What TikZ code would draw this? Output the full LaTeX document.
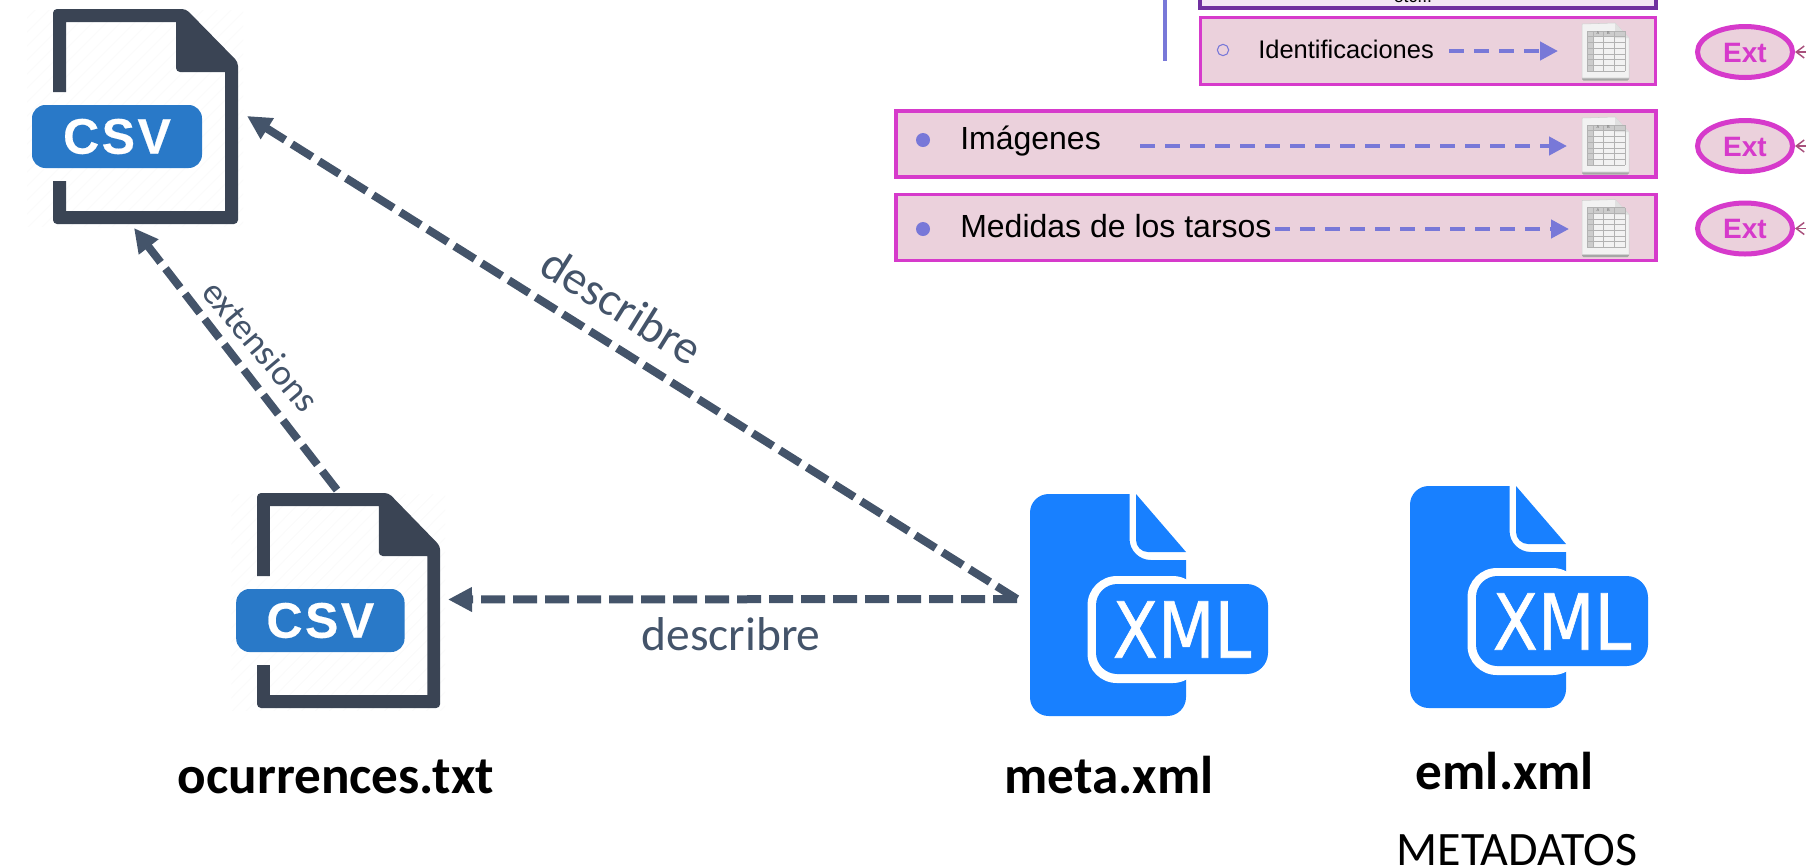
\documentclass[tikz,border=0pt]{standalone}
\usepackage{fontspec}
\setmainfont{Liberation Sans}
\newfontfamily\carlito{Carlito}
\newfontfamily\dejavu{DejaVu Sans}
\usetikzlibrary{arrows.meta,shapes.geometric}
\definecolor{csvdark}{HTML}{3A4454}
\definecolor{csvblue}{HTML}{2979C8}
\definecolor{xmlblue}{HTML}{1880FF}
\definecolor{slate}{HTML}{44546A}
\definecolor{violet}{HTML}{7878D8}
\definecolor{magentaline}{HTML}{D63ACB}
\definecolor{pinkfill}{HTML}{EBD1DC}
\definecolor{purpleline}{HTML}{7030A0}
\definecolor{lilacfill}{HTML}{F3E6F5}
\definecolor{backarrow}{HTML}{A8507C}
\definecolor{hatchgrey}{HTML}{FBFBFB}
\tikzset{
  slatearrow/.style={draw=slate,line width=6pt,dash pattern=on 18pt off 6pt,-{Triangle[length=18pt,width=17.5pt]}},
  violetarrow/.style={draw=violet,line width=3.2pt,dash pattern=on 11.25pt off 7.5pt,-{Triangle[length=13.5pt,width=13.5pt]}},
  pinkbox/.style={draw=magentaline,fill=pinkfill,line width=2.6pt,inner sep=0pt},
  purplebox/.style={draw=purpleline,fill=lilacfill,line width=2.6pt,inner sep=0pt},
  extnode/.style={ellipse,draw=magentaline,fill=pinkfill,line width=3.75pt,minimum width=71.25pt,minimum height=38.25pt,inner sep=0pt},
  exttext/.style={anchor=base,inner sep=0pt,text=magentaline,font=\fontsize{21}{21}\selectfont\bfseries},
  rowtext/.style={anchor=base west,inner sep=0pt,font=\fontsize{24}{24}\selectfont},
  boldlabel/.style={anchor=base,inner sep=0pt,font=\carlito\bfseries\fontsize{39.9}{40}\selectfont},
  edgelabel/.style={inner sep=0pt,text=slate,font=\carlito\fontsize{35.6}{36}\selectfont},
  backtip/.style={draw=backarrow,line width=1.1pt,-{Straight Barb[length=6pt,width=9pt]}},
}
\newcommand\csvicon[4]{% name x y xscale
  \begin{scope}[shift={(#2,#3)},xscale=#4]
    \begin{scope}
      \clip (-26,1) rectangle (190,217);
      \foreach \k in {-26,-12,...,420} \draw[hatchgrey,line width=.8pt] (\k-230,225) -- (\k,-5);
    \end{scope}
    \fill[csvdark] (0,83) [rounded corners=3] -- (0,0) -- (133,0) -- (185,53) -- (185,215) -- (0,215) [sharp corners] -- (0,172) -- (13,172) -- (13,202) -- (172,202) -- (172,63) [rounded corners=3] -- (123,63) [sharp corners] -- (123,13) -- (13,13) -- (13,83) -- cycle;
    \fill[csvblue,rounded corners=10] (-21,96) rectangle (149,159);
    \node[inner sep=0pt,text=white] (#1) at (64,127.5) {\bfseries\fontsize{37.5}{38}\selectfont\addfontfeature{LetterSpace=5,FakeBold=.4}CSV};
  \end{scope}}
\newcommand\xmlicon[3]{% name x y
  \begin{scope}[shift={(#2,#3)}]
    \fill[xmlblue] (99.5,0) [rounded corners=14] -- (0,0) -- (0,222) -- (156,222) [sharp corners] -- (156,66) [rounded corners=16] -- (99.5,66) [sharp corners] -- (99.5,0) -- cycle;
    \fill[xmlblue] (106,0) -- (156,58) [rounded corners=9] -- (106,58) [sharp corners] -- cycle;
    \fill[white,rounded corners=22] (57.5,82) rectangle (172,189);
    \fill[xmlblue,rounded corners=16] (66,90) rectangle (238,180);
    \node[inner sep=0pt,text=white,xscale=.85] (#1) at (152,135.5) {\dejavu\addfontfeature{FakeBold=.9}\fontsize{58}{58}\selectfont XML};
  \end{scope}}
\newcommand\sheeticon[3]{% name x y
  \begin{scope}[shift={(#2,#3)}]
    \fill[black!35,rounded corners=1] (0,40) rectangle (47,57.5);
    \draw[black!18,fill=black!5,line width=.4pt] (0,1) -- (33,0) -- (47,15) -- (47,55) -- (0,55) -- cycle;
    \fill[black!12] (33,0) -- (47,15) -- (33,15) -- cycle;
    \fill[black!20] (5,8) rectangle (43,13);
    \fill[black!20] (5,8) rectangle (11,48);
    \foreach \r in {8,13.7,19.4,25.1,30.8,36.5,42.2,48} \draw[black!30,line width=.35pt] (5,\r) -- (43,\r);
    \foreach \c in {5,11,21,32,43} \draw[black!30,line width=.35pt] (\c,8) -- (\c,48);
    \node[inner sep=0pt,text=black!60,font=\fontsize{3}{3}\selectfont] (#1a) at (16,10.5) {A};
    \node[inner sep=0pt,text=black!60,font=\fontsize{3}{3}\selectfont] (#1b) at (26.5,10.5) {B};
  \end{scope}}
\begin{document}
\begin{tikzpicture}[x=.75pt,y=-.75pt]
\useasboundingbox (0,0) rectangle (1806,865);
\clip (0,0) rectangle (1806,865);
% file icons
\csvicon{csvtop}{53}{9}{1}
\csvicon{csvocc}{257}{493}{.99}
\xmlicon{xmlmeta}{1030}{494}
\xmlicon{xmleml}{1410}{486}
% connectors
\coordinate (metaL) at (1017,599);
\coordinate (occTop) at (337,490);
\coordinate (topBottom) at (134,228);
\coordinate (topRight) at (247,116);
\coordinate (occRight) at (448,599.5);
\draw[slatearrow] (occTop) -- (topBottom);
\draw[slatearrow] (metaL) -- (topRight);
\draw[slatearrow] (metaL) -- (occRight);
\node[edgelabel,font=\carlito\fontsize{27.5}{28}\selectfont,rotate=-50] (lblext) at (261,346) {extensions};
\node[edgelabel,rotate=-32] (lbldesc1) at (622,306) {describre};
\node[edgelabel,anchor=base] (lbldesc2) at (731,650) {describre};
% file names
\node[boldlabel] (ocname) at (336,793) {ocurrences.txt};
\node[boldlabel] (metaname) at (1109,793) {meta.xml};
\node[boldlabel] (emlname) at (1505,789) {eml.xml};
\node[anchor=base,inner sep=0pt,font=\carlito\fontsize{36}{36}\selectfont] (metadatos) at (1517,865) {METADATOS};
% schema panel
\draw[violet,line width=2.6pt] (1165,-2) -- (1165,61);
\node[purplebox,minimum width=342pt,minimum height=60pt] (boxtop) at (1428,-32) {};
\node[anchor=base,inner sep=0pt,font=\fontsize{13.2}{13.2}\selectfont] (etc) at (1413,2) {etc...};
\node[pinkbox,minimum width=341pt,minimum height=50pt] (boxid) at (1428,51) {};
\node[pinkbox,minimum width=570pt,minimum height=49.5pt] (boximg) at (1276,144) {};
\node[pinkbox,minimum width=570pt,minimum height=49.5pt] (boxtar) at (1276,227.5) {};
\node[circle,draw=violet,line width=.8pt,minimum size=8.5pt,inner sep=0pt] (dotid) at (1223,50) {};
\node[circle,fill=violet,minimum size=10.5pt,inner sep=0pt] (dotimg) at (923,140) {};
\node[circle,fill=violet,minimum size=10.5pt,inner sep=0pt] (dottar) at (923,229) {};
\node[rowtext,font=\fontsize{19.1}{19.1}\selectfont] (txtid) at (1258,58) {Identificaciones};
\node[rowtext] (txtimg) at (960,149) {Imágenes};
\node[rowtext] (txttar) at (960,237) {Medidas de los tarsos};
\sheeticon{sheetid}{1582}{23}
\sheeticon{sheetimg}{1582}{117}
\sheeticon{sheettar}{1582}{199.5}
\coordinate (aidS) at (1449,51);\coordinate (aidE) at (1558,51);
\coordinate (aimS) at (1140,146);\coordinate (aimE) at (1567,146);
\coordinate (atrS) at (1275,229);\coordinate (atrE) at (1569,229);
\draw[violetarrow] (aidS) -- (aidE);
\draw[violetarrow] (aimS) -- (aimE);
\draw[violetarrow] (atrS) -- (atrE);
% Ext
\node[extnode] (ext1) at (1745,52) {};
\node[extnode] (ext2) at (1745,146) {};
\node[extnode] (ext3) at (1745,228.5) {};
\node[exttext] at (1745,62) {Ext};
\node[exttext] at (1745,156) {Ext};
\node[exttext] at (1745,238) {Ext};
\coordinate (bk1) at (1808,52);\coordinate (bk2) at (1808,146);\coordinate (bk3) at (1808,228.5);
\draw[backtip] (bk1) -- (ext1.east);
\draw[backtip] (bk2) -- (ext2.east);
\draw[backtip] (bk3) -- (ext3.east);
\end{tikzpicture}
\end{document}
